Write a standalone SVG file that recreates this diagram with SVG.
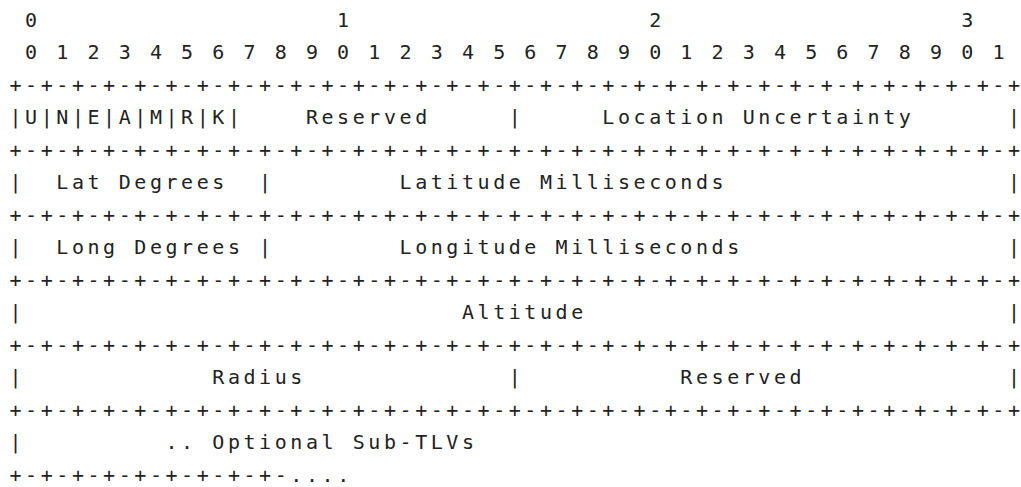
<svg xmlns="http://www.w3.org/2000/svg" width="1021" height="487" viewBox="0 0 1021 487">
<style>
text{font-family:"DejaVu Sans Mono","Liberation Mono",monospace;font-size:20px;letter-spacing:3.56px;fill:#222;white-space:pre}
.e{letter-spacing:0}
</style>
<rect width="1021" height="487" fill="#fff"/>
<g id="diagram" xml:space="preserve">
<text x="9.5" y="26.8"> 0                   1                   2                   <tspan class="e">3</tspan></text>
<text x="9.5" y="59.3"> 0 1 2 3 4 5 6 7 8 9 0 1 2 3 4 5 6 7 8 9 0 1 2 3 4 5 6 7 8 9 0 <tspan class="e">1</tspan></text>
<text x="9.5" y="91.8">+-+-+-+-+-+-+-+-+-+-+-+-+-+-+-+-+-+-+-+-+-+-+-+-+-+-+-+-+-+-+-+-<tspan class="e">+</tspan></text>
<text x="9.5" y="124.3">|U|N|E|A|M|R|K|    Reserved     |     Location Uncertainty      <tspan class="e">|</tspan></text>
<text x="9.5" y="156.8">+-+-+-+-+-+-+-+-+-+-+-+-+-+-+-+-+-+-+-+-+-+-+-+-+-+-+-+-+-+-+-+-<tspan class="e">+</tspan></text>
<text x="9.5" y="189.3">|  Lat Degrees  |        Latitude Milliseconds                  <tspan class="e">|</tspan></text>
<text x="9.5" y="221.8">+-+-+-+-+-+-+-+-+-+-+-+-+-+-+-+-+-+-+-+-+-+-+-+-+-+-+-+-+-+-+-+-<tspan class="e">+</tspan></text>
<text x="9.5" y="254.3">|  Long Degrees |        Longitude Milliseconds                 <tspan class="e">|</tspan></text>
<text x="9.5" y="286.8">+-+-+-+-+-+-+-+-+-+-+-+-+-+-+-+-+-+-+-+-+-+-+-+-+-+-+-+-+-+-+-+-<tspan class="e">+</tspan></text>
<text x="9.5" y="319.3">|                            Altitude                           <tspan class="e">|</tspan></text>
<text x="9.5" y="351.8">+-+-+-+-+-+-+-+-+-+-+-+-+-+-+-+-+-+-+-+-+-+-+-+-+-+-+-+-+-+-+-+-<tspan class="e">+</tspan></text>
<text x="9.5" y="384.3">|            Radius             |          Reserved             <tspan class="e">|</tspan></text>
<text x="9.5" y="416.8">+-+-+-+-+-+-+-+-+-+-+-+-+-+-+-+-+-+-+-+-+-+-+-+-+-+-+-+-+-+-+-+-<tspan class="e">+</tspan></text>
<text x="9.5" y="449.3">|         .. Optional Sub-TLVs</text>
<text x="9.5" y="481.8">+-+-+-+-+-+-+-+-+-...<tspan class="e">.</tspan></text>
</g>
</svg>
